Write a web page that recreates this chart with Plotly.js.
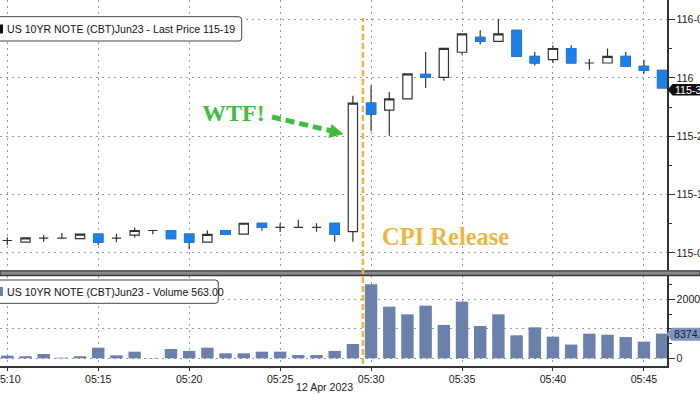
<!DOCTYPE html>
<html><head><meta charset="utf-8">
<script src="https://cdn.plot.ly/plotly-3.0.1.min.js"></script>
<style>html,body{margin:0;padding:0;background:#fff}#chart{width:700px;height:394px}</style>
</head><body><div id="chart"></div>
<script>
const day = '2023-04-12 ';
const times = ['05:10','05:11','05:12','05:13','05:14','05:15','05:16','05:17','05:18','05:19',
  '05:20','05:21','05:22','05:23','05:24','05:25','05:26','05:27','05:28','05:29',
  '05:30','05:31','05:32','05:33','05:34','05:35','05:36','05:37','05:38','05:39',
  '05:40','05:41','05:42','05:43','05:44','05:45','05:46'];
const openP = [115.303,115.296,115.313,115.313,115.311,115.330,115.313,115.326,115.346,115.346,
  115.330,115.296,115.346,115.330,115.377,115.359,115.359,115.359,115.377,115.341,
  115.892,115.862,115.910,116.015,116.002,116.110,116.174,116.157,116.204,116.092,
  116.078,116.126,116.064,116.064,116.092,116.050,116.032];
const highP = [115.317,115.314,115.327,115.335,115.330,115.330,115.332,115.359,115.346,115.346,
  115.330,115.346,115.346,115.377,115.377,115.377,115.392,115.377,115.377,115.924,
  115.968,115.940,116.017,116.111,116.127,116.189,116.204,116.253,116.204,116.111,
  116.140,116.140,116.081,116.126,116.111,116.078,116.032];
const lowP = [115.284,115.296,115.298,115.313,115.311,115.284,115.296,115.316,115.330,115.311,
  115.266,115.296,115.329,115.330,115.346,115.339,115.359,115.341,115.298,115.298,
  115.771,115.752,115.910,115.957,115.988,116.100,116.143,116.157,116.092,116.053,
  116.064,116.064,116.035,116.064,116.050,116.018,115.957];
const closeP = [115.303,115.314,115.313,115.313,115.330,115.296,115.313,115.346,115.346,115.311,
  115.296,115.329,115.329,115.377,115.359,115.359,115.359,115.359,115.329,115.892,
  115.845,115.910,116.017,116.002,116.127,116.189,116.157,116.189,116.092,116.064,
  116.126,116.064,116.064,116.092,116.050,116.032,115.957];
const volume = [900,700,1450,200,700,3600,1000,2250,100,3150,
  2500,3600,1700,1700,2250,2250,1100,1100,2500,4850,
  25100,17500,14900,17850,11300,19200,10950,14900,7800,10500,
  7350,4650,8350,8000,7200,5650,8374];
const priceTickVals = [115.25,115.5,115.75,116,116.25];
const priceTickText = ['115-08','115-16','115-24','116','116-08'];
const volTickVals = [0,10000,20000];
const volTickText = ['0','','20000'];
const priceLegend = 'US 10YR NOTE (CBT)Jun23 - Last Price 115-19';
const volLegend = 'US 10YR NOTE (CBT)Jun23 - Volume 563.00';
const lastPriceLabel = '115-31';
const lastVolLabel = '8374.00';
const cpiTime = '05:29:33';
const dateLabel = '12 Apr 2023';

const X = times.map(t => day + t);
const downIdx = X.map((_, i) => i).filter(i => closeP[i] < openP[i]);

const BLUE = '#1a80ec', DARK = '#333333', VOL = '#6a82ab';
const GRID = '#9a9a9a', GDASH = '2px,4px';
const PX = x => x / 700, PY = y => 1 - y / 394;
const tf = {family: 'Liberation Sans, Arial, sans-serif', size: 10.6, color: '#222'};

function rr(x0, y0, x1, y1, r) {
  return `M${PX(x0 + r)},${PY(y0)} L${PX(x1 - r)},${PY(y0)} Q${PX(x1)},${PY(y0)} ${PX(x1)},${PY(y0 + r)} ` +
    `L${PX(x1)},${PY(y1 - r)} Q${PX(x1)},${PY(y1)} ${PX(x1 - r)},${PY(y1)} L${PX(x0 + r)},${PY(y1)} ` +
    `Q${PX(x0)},${PY(y1)} ${PX(x0)},${PY(y1 - r)} L${PX(x0)},${PY(y0 + r)} Q${PX(x0)},${PY(y0)} ${PX(x0 + r)},${PY(y0)} Z`;
}
function poly(pts) {
  return 'M' + pts.map(p => PX(p[0]) + ',' + PY(p[1])).join(' L') + ' Z';
}

const traces = [
  {type: 'bar', x: X, y: volume, xaxis: 'x', yaxis: 'y', width: 41000,
   marker: {color: VOL, line: {width: 0}}, hoverinfo: 'skip'},
  {type: 'candlestick', x: X, open: openP, high: highP, low: lowP, close: closeP,
   xaxis: 'x2', yaxis: 'y2', whiskerwidth: 0,
   increasing: {line: {color: DARK, width: 1.2}, fillcolor: '#ffffff'},
   decreasing: {line: {color: DARK, width: 1.2}, fillcolor: BLUE}, hoverinfo: 'skip'},
  {type: 'candlestick', x: downIdx.map(i => X[i]),
   open: downIdx.map(i => openP[i]), close: downIdx.map(i => closeP[i]),
   high: downIdx.map(i => openP[i]), low: downIdx.map(i => closeP[i]),
   xaxis: 'x2', yaxis: 'y2', whiskerwidth: 0,
   increasing: {line: {color: BLUE, width: 1}, fillcolor: BLUE},
   decreasing: {line: {color: BLUE, width: 1}, fillcolor: BLUE}, hoverinfo: 'skip'}
];

const xRange = [day + '05:09:35.9', day + '05:46:16.2'];
const layout = {
  width: 700, height: 394, margin: {l: 0, r: 0, t: 0, b: 0},
  paper_bgcolor: '#fff', plot_bgcolor: '#fff', showlegend: false, boxgap: 0.27,
  xaxis: {domain: [0, 667 / 700], anchor: 'y', type: 'date', range: xRange,
    tick0: day + '05:10', dtick: 300000, tickformat: '%H:%M', ticklabeloverflow: 'allow',
    showgrid: true, gridcolor: GRID, griddash: GDASH, zeroline: false,
    showline: true, linecolor: DARK, linewidth: 1.5,
    ticks: 'outside', ticklen: 3, tickcolor: DARK, tickfont: tf,
    rangeslider: {visible: false}},
  xaxis2: {domain: [0, 667 / 700], anchor: 'y2', type: 'date', matches: 'x', range: xRange,
    tick0: day + '05:10', dtick: 300000, showticklabels: false,
    showgrid: true, gridcolor: GRID, griddash: GDASH, zeroline: false, showline: false,
    ticks: '', rangeslider: {visible: false}},
  yaxis: {domain: [PY(366), PY(276)], anchor: 'x', side: 'right', range: [-2610, 27898],
    tickmode: 'array', tickvals: volTickVals, ticktext: volTickText, ticklabeloverflow: 'allow',
    showgrid: true, gridcolor: GRID, griddash: GDASH, zeroline: false,
    showline: true, linecolor: DARK, linewidth: 1.5,
    ticks: 'outside', ticklen: 6, tickcolor: DARK, tickfont: tf,
    minor: {tickmode: 'linear', tick0: 0, dtick: 5000, ticks: 'outside', ticklen: 3, tickcolor: DARK, showgrid: false}},
  yaxis2: {domain: [PY(270), 1], anchor: 'x2', side: 'right', range: [115.1766, 116.334],
    tickmode: 'array', tickvals: priceTickVals, ticktext: priceTickText, ticklabeloverflow: 'allow',
    showgrid: true, gridcolor: GRID, griddash: GDASH, zeroline: false,
    showline: true, linecolor: DARK, linewidth: 1.5,
    ticks: 'outside', ticklen: 6, tickcolor: DARK, tickfont: tf,
    minor: {tickmode: 'linear', tick0: 115.125, dtick: 0.125, ticks: 'outside', ticklen: 3, tickcolor: DARK, showgrid: false}},
  shapes: [
    {type: 'rect', xref: 'paper', yref: 'paper', x0: 0, x1: 1, y0: PY(275.5), y1: PY(270.8),
     fillcolor: '#8a8a8a', line: {color: '#383838', width: 1.3}, layer: 'above'},
    {type: 'line', xref: 'x', yref: 'paper', x0: day + cpiTime, x1: day + cpiTime, y0: PY(364), y1: PY(18),
     line: {color: '#f0b43c', width: 2.5, dash: '6px,3px'}, layer: 'above'},
    {type: 'line', xref: 'paper', yref: 'paper', x0: PX(272), y0: PY(117), x1: PX(331), y1: PY(130.8),
     line: {color: '#3dbf3d', width: 5, dash: '9px,5px'}, layer: 'above'},
    {type: 'path', xref: 'paper', yref: 'paper', path: poly([[331.5, 124], [343.5, 134], [328.5, 138]]),
     fillcolor: '#3dbf3d', line: {width: 0}, layer: 'above'},
    {type: 'path', xref: 'paper', yref: 'paper', path: rr(-6, 16.7, 241.7, 41, 3),
     fillcolor: '#ffffff', line: {color: '#444', width: 1}, layer: 'above'},
    {type: 'rect', xref: 'paper', yref: 'paper', x0: PX(0), x1: PX(3), y0: PY(33.5), y1: PY(24.5),
     fillcolor: '#111', line: {width: 0}, layer: 'above'},
    {type: 'path', xref: 'paper', yref: 'paper', path: rr(-6, 280, 218.3, 303.3, 3),
     fillcolor: '#ffffff', line: {color: '#444', width: 1}, layer: 'above'},
    {type: 'rect', xref: 'paper', yref: 'paper', x0: PX(0), x1: PX(3), y0: PY(296), y1: PY(287),
     fillcolor: VOL, line: {width: 0}, layer: 'above'},
    {type: 'path', xref: 'paper', yref: 'paper', path: poly([[667.5, 89.8], [672.5, 84], [702, 84], [702, 95.6], [672.5, 95.6]]),
     fillcolor: '#111', line: {width: 0}, layer: 'above'},
    {type: 'path', xref: 'paper', yref: 'paper', path: poly([[666.5, 334.2], [671.5, 327.7], [702, 327.7], [702, 340.7], [671.5, 340.7]]),
     fillcolor: '#8096bd', line: {width: 0}, layer: 'above'}
  ],
  annotations: [
    {xref: 'paper', yref: 'paper', x: PX(5), y: PY(29), xanchor: 'left', yanchor: 'middle', showarrow: false,
     text: priceLegend, font: {family: 'Liberation Sans, Arial, sans-serif', size: 10.6, color: '#111'}},
    {xref: 'paper', yref: 'paper', x: PX(5), y: PY(291.7), xanchor: 'left', yanchor: 'middle', showarrow: false,
     text: volLegend, font: {family: 'Liberation Sans, Arial, sans-serif', size: 10.6, color: '#111'}},
    {xref: 'paper', yref: 'paper', x: PX(233.5), y: PY(113), xanchor: 'center', yanchor: 'middle', showarrow: false,
     text: '<b>WTF!</b>', font: {family: 'Liberation Serif, Times New Roman, serif', size: 24, color: '#3dbf3d'}},
    {xref: 'paper', yref: 'paper', x: PX(445), y: PY(236), xanchor: 'center', yanchor: 'middle', showarrow: false,
     text: '<b>CPI Release</b>', font: {family: 'Liberation Serif, Times New Roman, serif', size: 24.5, color: '#efb63f'}},
    {xref: 'paper', yref: 'paper', x: PX(672.5), y: PY(89.8), xanchor: 'left', yanchor: 'middle', showarrow: false,
     text: lastPriceLabel, font: {family: 'Liberation Sans, Arial, sans-serif', size: 10.6, color: '#fff'}},
    {xref: 'paper', yref: 'paper', x: PX(671.5), y: PY(334.2), xanchor: 'left', yanchor: 'middle', showarrow: false,
     text: lastVolLabel, font: {family: 'Liberation Sans, Arial, sans-serif', size: 10.6, color: '#13213d'}},
    {xref: 'paper', yref: 'paper', x: PX(324), y: PY(387), xanchor: 'center', yanchor: 'middle', showarrow: false,
     text: dateLabel, font: tf}
  ]
};
Plotly.newPlot('chart', traces, layout, {displayModeBar: false, staticPlot: true});
</script></body></html>
